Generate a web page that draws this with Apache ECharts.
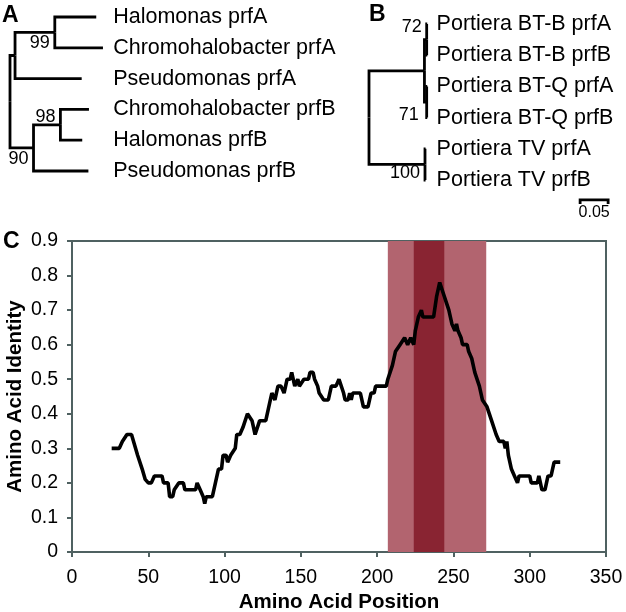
<!DOCTYPE html>
<html><head><meta charset="utf-8">
<script src="https://cdn.jsdelivr.net/npm/echarts@6/dist/echarts.min.js"></script>
<style>html,body{margin:0;padding:0;background:#fff}#c{width:626px;height:612px}</style>
</head><body><div id="c"></div>
<script>
// ---------- Panel A tree ----------
const treeALeaves = ['Halomonas prfA','Chromohalobacter prfA','Pseudomonas prfA','Chromohalobacter prfB','Halomonas prfB','Pseudomonas prfB'];
const treeANodes  = ['rootA','cladeA','n99','Halomonas prfA','Chromohalobacter prfA','Pseudomonas prfA','n90','n98','Chromohalobacter prfB','Halomonas prfB','Pseudomonas prfB'];
const treeAParent = [-1, 0, 1, 2, 2, 1, 0, 6, 7, 7, 6];
const treeABranch = [0, 0.009, 0.071, 0.074, 0.086, 0.119, 0.042, 0.048, 0.051, 0.039, 0.098];
const treeASupport = [null, null, 99, null, null, null, 90, 98, null, null, null];

// ---------- Panel B tree ----------
const treeBLeaves = ['Portiera BT-B prfA','Portiera BT-B prfB','Portiera BT-Q prfA','Portiera BT-Q prfB','Portiera TV prfA','Portiera TV prfB'];
const treeBNodes  = ['rootB','upper','btB','Portiera BT-B prfA','Portiera BT-B prfB','btQ','Portiera BT-Q prfA','Portiera BT-Q prfB','tv','Portiera TV prfA','Portiera TV prfB'];
const treeBParent = [-1, 0, 1, 2, 2, 1, 5, 5, 0, 8, 8];
const treeBBranch = [0, 0.099, 0.004, 0.001, 0.001, 0.004, 0.001, 0.001, 0.1, 0.001, 0.001];
const treeBSupport = [null, null, 72, null, null, 71, null, null, 100, null, null];
const scaleBarLength = 0.05;
const scaleBarLabel = '0.05';

// ---------- Panel C identity profile ----------
const aaPosition = [26,31,33,36,39,43,46,48,50,52,54,59,60,63,64,66,67,68,70,73,74,81,82,84,86,87,88,92,94,96,98,99,101,102,104,105,107,108,110,112,115,116,118,120,121,123,127,130,131,133,135,137,139,141,143,144,146,148,149,152,155,156,158,159,161,162,165,168,170,173,175,176,178,179,181,182,183,184,189,191,194,196,198,199,206,207,208,210,212,215,218,220,222,224,225,227,229,230,237,239,241,242,244,247,249,251,252,253,255,256,259,260,262,264,267,269,270,272,275,278,280,283,284,285,286,288,290,292,293,300,301,305,306,307,308,310,311,312,314,316,320];
const aaIdentity = [0.30,0.30,0.32,0.34,0.34,0.28,0.24,0.21,0.20,0.20,0.22,0.22,0.20,0.20,0.16,0.16,0.18,0.18,0.20,0.20,0.18,0.18,0.20,0.18,0.16,0.14,0.16,0.16,0.20,0.24,0.24,0.28,0.28,0.26,0.28,0.28,0.30,0.34,0.34,0.36,0.40,0.40,0.38,0.34,0.34,0.38,0.38,0.44,0.46,0.44,0.48,0.48,0.46,0.50,0.50,0.52,0.48,0.50,0.48,0.50,0.50,0.52,0.52,0.50,0.48,0.46,0.44,0.44,0.48,0.48,0.50,0.50,0.46,0.44,0.44,0.46,0.44,0.46,0.46,0.42,0.42,0.46,0.46,0.48,0.48,0.50,0.50,0.54,0.58,0.60,0.62,0.60,0.62,0.60,0.64,0.68,0.70,0.68,0.68,0.74,0.78,0.78,0.74,0.70,0.66,0.64,0.66,0.64,0.62,0.60,0.60,0.58,0.56,0.52,0.48,0.44,0.44,0.42,0.38,0.34,0.32,0.32,0.30,0.32,0.28,0.24,0.22,0.20,0.22,0.22,0.20,0.20,0.22,0.20,0.18,0.18,0.20,0.22,0.22,0.26,0.26];
const outerRegion = [207, 271.5];
const innerRegion = [224, 244];
const xTicks = [0, 350, 50];
const yTicks = [0, 0.9, 0.1];

const FONT = '"Liberation Sans", Arial, Helvetica, sans-serif';
const AXIS = '#4f6161';

function layoutTree(nodes, parent, branch, leaves) {
  const n = nodes.length, x = new Array(n), y = new Array(n);
  const kids = nodes.map(() => []);
  parent.forEach((p, i) => { if (p >= 0) kids[p].push(i); });
  function setX(i, base) { x[i] = base + branch[i]; kids[i].forEach(k => setX(k, x[i])); }
  function setY(i) {
    if (!kids[i].length) { y[i] = leaves.indexOf(nodes[i]); return y[i]; }
    const ys = kids[i].map(setY);
    y[i] = (Math.min(...ys) + Math.max(...ys)) / 2; return y[i];
  }
  setX(0, 0); setY(0);
  const segs = [];
  for (let i = 0; i < n; i++) {
    const p = parent[i]; if (p < 0) continue;
    segs.push({ coords: [[x[p], y[p]], [x[p], y[i]], [x[i], y[i]]] });
  }
  return { x, y, segs };
}
const LA = layoutTree(treeANodes, treeAParent, treeABranch, treeALeaves);
const LB = layoutTree(treeBNodes, treeBParent, treeBBranch, treeBLeaves);

const supportOffsetA = { 99: [-5, 11], 98: [-5, -8], 90: [-5, 11] };
const supportOffsetB = { 72: [-5, -13], 71: [-8, 13], 100: [-5, 9] };
function supportData(L, support, offs) {
  const out = [];
  support.forEach((s, i) => {
    if (s == null) return;
    out.push({ value: [L.x[i], L.y[i]], label: { formatter: String(s), offset: offs[s] } });
  });
  return out;
}
const supportLabel = { show: true, position: 'inside', align: 'right', verticalAlign: 'middle', fontSize: 18, color: '#000',
  textBorderWidth: 0, textBorderColor: 'transparent', fontFamily: FONT };

const hiddenX = (g, max) => ({ type: 'value', gridIndex: g, min: 0, max: max, show: false });
const leafY = (g, labels, margin) => ({
  type: 'value', gridIndex: g, min: 0, max: 5, interval: 1, inverse: true, position: 'right',
  axisLine: { show: false }, axisTick: { show: false }, splitLine: { show: false },
  axisLabel: { formatter: v => labels[v] || '', fontSize: 21.5, color: '#000', fontFamily: FONT, margin: margin }
});

const sbX = 0.377, sbY = 5.64, sbD = 0.13;

const chart = echarts.init(document.getElementById('c'), null, { renderer: 'canvas' });
chart.setOption({
  animation: false,
  backgroundColor: '#fff',
  grid: [
    { left: 10, top: 17, width: 0.17 * 560, height: 154, outerBoundsMode: 'none', containLabel: false },
    { left: 369, top: 24, width: 0.11 * 560, height: 156, outerBoundsMode: 'none', containLabel: false },
    { left: 72, top: 241, width: 534, height: 311, show: true, borderColor: AXIS, borderWidth: 2, outerBoundsMode: 'none', containLabel: false }
  ],
  xAxis: [
    hiddenX(0, 0.17), hiddenX(1, 0.11),
    { type: 'value', gridIndex: 2, min: xTicks[0], max: xTicks[1], interval: xTicks[2],
      axisLine: { lineStyle: { color: AXIS, width: 2 } },
      axisTick: { show: true, length: 5, lineStyle: { color: AXIS, width: 2 } },
      splitLine: { show: false },
      axisLabel: { fontSize: 19.5, color: '#000', fontFamily: FONT, margin: 16 },
      name: 'Amino Acid Position', nameLocation: 'middle', nameGap: 40, nameMoveOverlap: false,
      nameTextStyle: { fontSize: 20.5, fontWeight: 'bold', color: '#000', fontFamily: FONT } }
  ],
  yAxis: [
    leafY(0, treeALeaves, 8), leafY(1, treeBLeaves, 6),
    { type: 'value', gridIndex: 2, min: yTicks[0], max: yTicks[1], interval: yTicks[2],
      axisLine: { show: true, lineStyle: { color: AXIS, width: 2 } },
      axisTick: { show: true, length: 5, lineStyle: { color: AXIS, width: 2 } },
      splitLine: { show: false },
      axisLabel: { fontSize: 19.5, color: '#000', fontFamily: FONT, margin: 14 },
      name: 'Amino Acid Identity', nameLocation: 'middle', nameGap: 46, nameMoveOverlap: false,
      nameTextStyle: { fontSize: 20.5, fontWeight: 'bold', color: '#000', fontFamily: FONT } }
  ],
  graphic: [
    { type: 'text', left: 2, top: 4, style: { text: 'A', font: 'bold 23px ' + FONT, fill: '#000' } },
    { type: 'text', left: 369, top: 3, style: { text: 'B', font: 'bold 23px ' + FONT, fill: '#000' } },
    { type: 'text', left: 3, top: 230, style: { text: 'C', font: 'bold 23px ' + FONT, fill: '#000' } }
  ],
  series: [
    { type: 'lines', coordinateSystem: 'cartesian2d', xAxisIndex: 0, yAxisIndex: 0, polyline: true, clip: false, silent: true,
      lineStyle: { color: '#000', width: 2.8, opacity: 1 }, data: LA.segs },
    { type: 'scatter', xAxisIndex: 0, yAxisIndex: 0, symbolSize: 0, silent: true, clip: false, itemStyle: { opacity: 1 },
      label: supportLabel, data: supportData(LA, treeASupport, supportOffsetA) },
    { type: 'lines', coordinateSystem: 'cartesian2d', xAxisIndex: 1, yAxisIndex: 1, polyline: true, clip: false, silent: true,
      lineStyle: { color: '#000', width: 2.8, opacity: 1 }, data: LB.segs },
    { type: 'scatter', xAxisIndex: 1, yAxisIndex: 1, symbolSize: 0, silent: true, clip: false, itemStyle: { opacity: 1 },
      label: supportLabel, data: supportData(LB, treeBSupport, supportOffsetB) },
    { type: 'lines', coordinateSystem: 'cartesian2d', xAxisIndex: 1, yAxisIndex: 1, polyline: true, clip: false, silent: true,
      lineStyle: { color: '#000', width: 2.8, opacity: 1 },
      data: [{ coords: [[sbX, sbY + sbD], [sbX, sbY], [sbX + scaleBarLength, sbY], [sbX + scaleBarLength, sbY + sbD]] }] },
    { type: 'scatter', xAxisIndex: 1, yAxisIndex: 1, symbolSize: 0, silent: true, clip: false, itemStyle: { opacity: 1 },
      label: { show: true, position: 'inside', align: 'center', verticalAlign: 'middle', fontSize: 16, color: '#000', fontFamily: FONT,
               textBorderWidth: 0, textBorderColor: 'transparent', formatter: scaleBarLabel, offset: [0, 13] },
      data: [[sbX + scaleBarLength / 2, sbY]] },
    { type: 'line', xAxisIndex: 2, yAxisIndex: 2, z: 1, silent: true, showSymbol: false,
      lineStyle: { opacity: 0 }, data: aaPosition.map((p, i) => [p, aaIdentity[i]]),
      markArea: { silent: true, data: [
        [{ xAxis: outerRegion[0], itemStyle: { color: '#b2646f', opacity: 1 } }, { xAxis: outerRegion[1] }],
        [{ xAxis: innerRegion[0], itemStyle: { color: '#892432', opacity: 1 } }, { xAxis: innerRegion[1] }]
      ] } },
    { type: 'line', xAxisIndex: 2, yAxisIndex: 2, z: 5, silent: true, showSymbol: false,
      lineStyle: { color: '#000', width: 3.6 }, data: aaPosition.map((p, i) => [p, aaIdentity[i]]) }
  ]
});
</script>
</body></html>
